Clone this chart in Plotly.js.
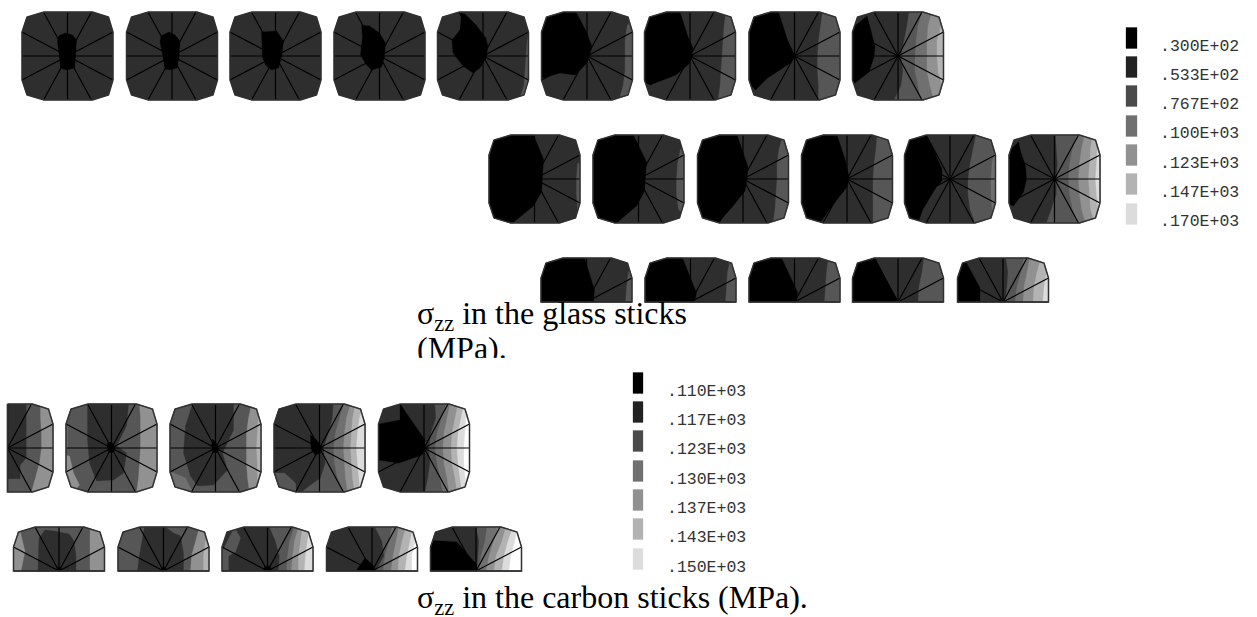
<!DOCTYPE html>
<html><head><meta charset="utf-8">
<script src="https://cdn.plot.ly/plotly-3.0.1.min.js"></script>
<style>html,body{margin:0;padding:0;background:#fff;overflow:hidden}</style>
</head><body><div id="chart" style="width:1257px;height:617px"></div>
<script>
// Contour levels and legend labels
const legendShades = ['#000000','#222222','#4a4a4a','#707070','#919191','#b3b3b3','#dcdcdc'];
const bandShades   = ['#000000','#2e2e2e','#565656','#707070','#919191','#b3b3b3','#dcdcdc','#ffffff'];
const glassLabels  = ['.300E+02','.533E+02','.767E+02','.100E+03','.123E+03','.147E+03','.170E+03'];
const carbonLabels = ['.110E+03','.117E+03','.123E+03','.130E+03','.137E+03','.143E+03','.150E+03'];
const glassLegendY  = [38,67,96,126,155,184,214];
const carbonLegendY = [383,412,441,471,500,529,559];
const glassLabelY   = [47,76,105,134,164,193,222];
const carbonLabelY  = [392,421,450,480,509,538,568];

// Cross-section geometry (pixels from the section centre)
const outlineX = [-23.5,25,41,45.5,45.5,41,25,-23.5,-40.5,-45.5,-45.5,-40.5];
const outlineY = [-44,-44,-39,-24,24,39,44,44,39,24,-24,-39];
const spokeX = [0,24,45.5,45.5,45.5,24,0,-24,-45.5,-45.5,-45.5,-24];
const spokeY = [-44,-44,-24,0,24,44,44,44,24,0,-24,-44];
const bandRows = [-44,-30,-15,0,15,30,44];
const BOX = [-70,-70,70,-70,70,70,-70,70];

// Stress bands: ['p',level,[x,y,...]] polygon, ['r',level,[x per bandRows]] everything right of a boundary
const g1 = [['p',0,[-9,-20,-2,-23,5,-21,9,-16,8,1,7,12,-1,14,-7,12,-8,1,-10,-14]]];
const g2 = [['p',0,[-11,-20,-3,-24,3,-21,8,-15,7,1,5,12,-2,14,-7,13,-9,1,-12,-14]]];
const g3 = [['p',0,[-14,-24,1,-25,8,-15,6,1,3,12,-4,14,-10,9,-13,1]]];
const g4 = [['p',0,[-18,-31,-10,-30,0,-23,6,-13,5,1,2,11,-8,14,-13,9,-19,-1,-17,-19]]];
const g5 = [['p',0,[-22,-43,-18,-42,-7,-31,3,-18,5,-9,3,2,-3,12,-10,17,-20,10,-30,-3,-31,-16,-23,-26,-22,-36]],
            ['r',2,[60,48,44,43,42,41,36]]];
const g6 = [['p',0,[-25,-44,-11,-44,0,-23,5,-9,0,7,-12,19,-27,17,-44,22,-50,17,-50,-30,-40,-40]],
            ['r',2,[50,40,38,38,38,36,32]]];
const g7 = [['p',0,[-25,-44,-10,-44,-2,-19,3,-8,0,7,-14,19,-40,29,-50,24,-50,-40]],
            ['r',2,[36,34,33,32,31,30,28]]];
const g8 = [['p',0,[-24,-44,-16,-44,-7,-16,0,-1,-4,7,-27,22,-39,34,-50,24,-50,-40]],
            ['r',2,[28,26,24,23,23,24,24]]];
const g9 = [['p',0,[-48,-26,-31,-40,-28,-29,-23,-9,-24,1,-29,16,-43,27,-50,24]],
            ['r',2,[11,9,6,3,5,3,-4]],['r',3,[24,20,18,17,17,20,23]],
            ['r',4,[34,30,29,29,29,32,36]],['r',5,[46,43,39,39,40,44,48]]];
const g10 = [['p',0,[-24,-44,-1,-44,9,-20,8,0,7,13,-1,27,-22,44,-50,44,-50,-44]],
             ['r',2,[60,60,43,42,42,43,60]]];
const g11 = [['p',0,[-24,-44,-5,-44,8,-17,7,0,6,12,-2,27,-22,44,-50,44,-50,-44]],
             ['r',2,[60,42,39,38,38,40,50]]];
const g12 = [['p',0,[-25,-44,-6,-44,5,-12,4,0,2,12,-10,27,-25,44,-50,44,-50,-44]],
             ['r',2,[40,36,34,34,33,32,30]]];
const g13 = [['p',0,[-25,-44,-10,-44,-2,-20,2,-2,0,8,-15,27,-27,44,-50,44,-50,-44]],
             ['r',2,[30,29,27,26,26,26,26]]];
const g14 = [['p',0,[-24,-44,-20,-37,-8,-10,-8,2,-13,7,-27,30,-32,44,-50,44,-50,-44]],
             ['r',2,[26,23,20,18,18,20,25]],['r',3,[50,45,42,41,41,42,46]]];
const g15 = [['p',0,[-36,-37,-34,-28,-29,-13,-28,0,-31,13,-41,27,-50,24,-50,-24]],
             ['r',2,[1,2,3,2,2,-3,-8]],['r',3,[22,18,15,14,15,18,23]],['r',4,[30,27,25,24,25,27,31]],
             ['r',5,[38,36,35,34,35,36,40]],['r',6,[46,43,42,41,42,44,48]]];
const g16 = [['p',0,[-23,-44,-2,-44,8,-12,7,0,-50,0,-50,-44]],['r',2,[50,42,40,39]]];
const g17 = [['p',0,[-24,-44,-8,-44,6,-9,4,0,-50,0,-50,-44]],['r',2,[40,37,36,35]]];
const g18 = [['p',0,[-24,-44,-13,-44,3,-10,2,0,-50,0,-50,-44]],['r',2,[34,32,31,30]]];
const g19 = [['p',0,[-23,-44,0,0,-50,0,-50,-44]],['r',2,[26,24,21,20]]];
const g20 = [['p',0,[-37,-40,-23,-14,-23,0,-50,0,-50,-40]],['r',2,[3,5,4,2]],['r',3,[21,18,14,12]],
             ['r',4,[27,24,21,20]],['r',5,[38,34,31,30]],['r',6,[46,44,41,40]]];

const c1 = [['p',2,[19,-44,50,-44,50,44,25,44,0,44,0,31,13,31,13,17,19,10]],
            ['r',4,[33,33,34,34,32,28,24]]];
const c2 = [['p',2,BOX],['p',1,[-24,-44,17,-44,15,-22,5,-2,15,5,12,25,2,32,-15,33,-22,15,-24,-8]],
            ['p',0,[-4,-5,0,-6,3,-1,3,3,0,5,-3,4,-4,0]],['r',4,[28,29,29,29,28,27,25]],
            ['p',4,[-50,6,-42,8,-38,25,-32,37,-38,44,-50,44]],['p',3,[-50,-24,-44,-24,-44,0,-50,0]]];
const c3 = [['p',2,BOX],['p',1,[-23,-44,18,-44,18,-18,7,5,12,22,-2,37,-18,38,-25,28,-32,5,-30,-22]],
            ['p',0,[-3,-9,2,-3,3,3,0,5,-3,4,-4,-2]],['r',4,[36,33,31,31,31,32,34]],
            ['r',5,[60,43,42,41,42,42,42]],['p',3,[-50,24,-44,24,-30,30,-23,44,-50,44]]];
const c4 = [['p',2,[-50,25,-35,25,-24,35,-23,45,-50,45]],['p',0,[-9,-13,-3,-8,2,-2,1,5,-4,7,-8,2,-9,-5]],
            ['r',2,[14,13,9,4,6,1,-18]],['r',3,[24,20,16,14,15,18,24]],['r',4,[31,27,25,24,25,26,28]],
            ['r',5,[36,33,32,31,32,33,35]],['r',6,[44,40,38,37,38,39,41]]];
const c5 = [['p',0,[-24,-44,1,-8,1,0,-2,7,-25,15,-45,12,-50,12,-50,-23,-24,-28]],
            ['r',2,[11,12,7,5,6,4,1]],['r',3,[22,18,13,11,13,16,19]],['r',4,[26,23,20,19,20,23,25]],
            ['r',5,[34,31,28,27,28,31,33]],['r',6,[40,37,34,33,34,36,38]],['r',7,[60,42,41,40,40,42,42]]];
const d1 = [['p',2,BOX],['p',1,[-21,0,-20,-33,-14,-41,-5,-40,10,-37,15,-30,17,-15,17,0]],
            ['p',4,[-39,-40,-34,-20,-38,0,-50,0,-50,-40]],['r',4,[31,31,31,31]],
            ['p',0,[-3,0,-2,-3,0,-4,2,-3,3,0]]];
const d2 = [['p',2,BOX],['p',1,[-19,-44,2,-44,10,-38,17,-35,20,-18,20,0,-26,0,-24,-16]],
            ['r',4,[36,32,28,27]],['r',5,[50,42,40,40]],['p',0,[-3,0,-2,-3,0,-4,2,-3,3,0]]];
const d3 = [['p',2,[-50,-22,-44,-22,-33,-44,-27,-33,-32,-19,-39,-15,-39,0,-50,0]],
            ['r',2,[2,8,12,11]],['r',3,[27,22,20,19]],['r',4,[31,27,25,24]],['r',5,[35,33,31,31]],
            ['r',6,[42,40,38,37]],['p',0,[-4,0,-3,-4,0,-5,3,-4,4,0]]];
const d4 = [['p',0,[-16,0,-7,-13,1,-6,3,0]],['r',2,[3,10,12,4]],['r',3,[20,17,13,11]],['r',4,[27,24,21,19]],
            ['r',5,[34,30,27,26]],['r',6,[41,38,35,33]],['r',7,[47,43,40,40]]];
const d5 = [['p',0,[-50,-31,-19,-29,1,-6,1,0,-50,0]],['r',2,[0,3,2,1]],['r',3,[11,9,5,3]],['r',4,[22,18,13,10]],
            ['r',5,[30,26,20,18]],['r',6,[37,32,28,26]],['r',7,[42,39,35,33]]];

// Where each section sits: [centre x, centre y, bands, half]
const sections = [
 [67.5,56,g1],[172,56,g2],[275.5,56,g3],[379.5,56,g4],[483,56,g5],[587,56,g6],[690,56,g7],[794.5,56,g8],[898,56,g9],
 [534.5,179,g10],[638.5,179,g11],[743,179,g12],[847,179,g13],[950,179,g14],[1054.5,179,g15],
 [586.5,302,g16,'top'],[690.5,302,g17,'top'],[794.5,302,g18,'top'],[898,302,g19,'top'],[1003,302,g20,'top'],
 [7.5,448,c1,'right'],[111.5,448,c2],[215.5,448,c3],[319.5,448,c4],[424,448,c5],
 [59,571,d1,'top'],[163.5,571,d2,'top'],[267.5,571,d3,'top'],[372,571,d4,'top'],[476,571,d5,'top']
];

const captionGlass1 = 'σ<sub>zz</sub> in the glass sticks';
const captionGlass2 = '(MPa).';
const captionCarbon = 'σ<sub>zz</sub> in the carbon sticks (MPa).';

function pairs(flat){const o=[];for(let i=0;i<flat.length;i+=2)o.push([flat[i],flat[i+1]]);return o;}
function clipEdge(poly,a,b){
  const side=p=>(b[0]-a[0])*(p[1]-a[1])-(b[1]-a[1])*(p[0]-a[0]);
  const out=[];
  for(let i=0;i<poly.length;i++){
    const p=poly[i],q=poly[(i+1)%poly.length],sp=side(p),sq=side(q);
    if(sp>=0)out.push(p);
    if((sp>=0)!==(sq>=0)){const t=sp/(sp-sq);out.push([p[0]+t*(q[0]-p[0]),p[1]+t*(q[1]-p[1])]);}
  }
  return out;
}
function clipConvex(poly,clip){
  let r=poly;
  for(let i=0;i<clip.length&&r.length;i++)r=clipEdge(r,clip[i],clip[(i+1)%clip.length]);
  return r;
}
const fullOutline=outlineX.map((x,i)=>[x,outlineY[i]]);
const halves={top:[[-70,-70],[70,-70],[70,0],[-70,0]],right:[[0,-70],[70,-70],[70,70],[0,70]]};
const traces=[];
function addFill(pts,cx,cy,color){
  if(pts.length<3)return;
  const x=pts.map(p=>p[0]+cx),y=pts.map(p=>p[1]+cy);
  x.push(x[0]);y.push(y[0]);
  traces.push({type:'scatter',mode:'lines',x,y,fill:'toself',fillcolor:color,line:{width:0.3,color},hoverinfo:'skip'});
}
sections.forEach(([cx,cy,bands,half])=>{
  const shape=half?clipConvex(fullOutline,halves[half]):fullOutline;
  addFill(shape,cx,cy,bandShades[1]);
  bands.forEach(([kind,level,v])=>{
    let poly;
    if(kind==='p')poly=pairs(v);
    else{
      poly=v.map((x,i)=>[x,bandRows[i]]);
      const last=bandRows[v.length-1];
      poly.push([70,last],[70,-44]);
    }
    addFill(clipConvex(poly,shape),cx,cy,bandShades[level]);
  });
  const lx=[],ly=[];
  spokeX.forEach((sx,i)=>{
    const sy=spokeY[i];
    if(half==='top'&&sy>0)return;
    if(half==='right'&&sx<0)return;
    lx.push(cx,cx+sx,null);ly.push(cy,cy+sy,null);
  });
  traces.push({type:'scatter',mode:'lines',x:lx,y:ly,line:{color:'#000000',width:1.2},hoverinfo:'skip',connectgaps:false});
  const ox=shape.map(p=>p[0]+cx),oy=shape.map(p=>p[1]+cy);
  ox.push(ox[0]);oy.push(oy[0]);
  traces.push({type:'scatter',mode:'lines',x:ox,y:oy,line:{color:'#303030',width:1.5},hoverinfo:'skip'});
});
function legend(xc,w,ys,labels,labelX,labelY){
  ys.forEach((yc,i)=>{
    addFill([[-w/2,-10.5],[w/2,-10.5],[w/2,10.5],[-w/2,10.5]],xc,yc,legendShades[i]);
  });
  traces.push({type:'scatter',mode:'text',x:labels.map(()=>labelX),y:labelY,text:labels,textposition:'middle right',
    textfont:{family:'Liberation Mono',size:16.5,color:'#333333'},hoverinfo:'skip'});
}
legend(1131.5,11,glassLegendY,glassLabels,1160,glassLabelY);
legend(638,10,carbonLegendY,carbonLabels,667,carbonLabelY);
const serif={family:'Liberation Serif',size:32,color:'#000000'};
traces.push({type:'scatter',mode:'text',x:[417,417,417],y:[316,351,600],
  text:[captionGlass1,captionGlass2,captionCarbon],textposition:'middle right',textfont:serif,hoverinfo:'skip'});
// the second caption line is cut off at its lower edge in the source
addFill([[0,0],[130,0],[130,14],[0,14]],400,358,'#ffffff');

Plotly.newPlot('chart',traces,{
  width:1257,height:617,margin:{l:0,r:0,t:0,b:0},showlegend:false,hovermode:false,
  paper_bgcolor:'#ffffff',plot_bgcolor:'#ffffff',
  xaxis:{range:[0,1257],visible:false,fixedrange:true},
  yaxis:{range:[617,0],visible:false,fixedrange:true}
},{displayModeBar:false,staticPlot:true});
</script></body></html>
